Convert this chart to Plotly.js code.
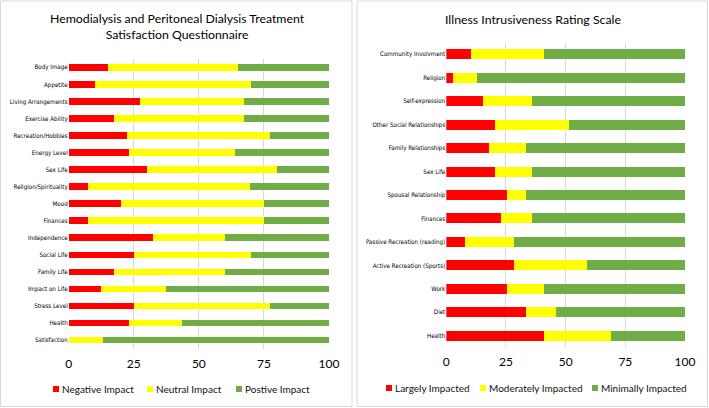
<!DOCTYPE html>
<html><head><meta charset="utf-8">
<script src="https://cdn.plot.ly/plotly-3.0.1.min.js"></script>
<style>html,body{margin:0;padding:0;background:#fff}#chart{width:709px;height:408px}</style>
</head><body><div id="chart"></div>
<script>
// Left chart: Hemodialysis and Peritoneal Dialysis Treatment Satisfaction Questionnaire
const hdCategories = ["Body Image","Appetite","Living Arrangements","Exercise Ability","Recreation/Hobbies","Energy Level","Sex Life","Religion/Spirituality","Mood","Finances","Independence","Social Life","Family Life","Impact on Life","Stress Level","Health","Satisfaction"];
const hdNegative = [15, 10, 27.5, 17.5, 22.5, 23, 30, 7.5, 20, 7.5, 32.5, 25, 17.5, 12.5, 25, 23, 0];
const hdNeutral  = [50, 60, 40, 50, 55, 41, 50, 62, 55, 67.5, 27.5, 45, 42.5, 25, 52.5, 20.5, 13];
const hdPositive = [35, 30, 32.5, 32.5, 22.5, 36, 20, 30.5, 25, 25, 40, 30, 40, 62.5, 22.5, 56.5, 87];
const hdSeries = ["Negative Impact", "Neutral Impact", "Postive Impact"];

// Right chart: Illness Intrusiveness Rating Scale
const iiCategories = ["Community Involvment","Religion","Self-expression","Other Social Relationships","Family Relationships","Sex Life","Spousal Relationship","Finances","Passive Recreation (reading)","Active Recreation (Sports)","Work","Diet","Health"];
const iiLargely    = [10.3, 2.6, 15.4, 20.5, 17.9, 20.5, 25.6, 23.1, 7.7, 28.2, 25.6, 33.3, 41.0];
const iiModerately = [30.8, 10.3, 20.5, 30.8, 15.4, 15.4, 7.7, 12.8, 20.5, 30.8, 15.4, 12.8, 28.2];
const iiMinimally  = [58.9, 87.1, 64.1, 48.7, 66.7, 64.1, 66.7, 64.1, 71.8, 41.0, 59.0, 53.9, 30.8];
const iiSeries = ["Largely Impacted", "Moderately Impacted", "Minimally Impacted"];

const xTicks = [0, 25, 50, 75, 100];
const colors = ["#FF0000", "#FFFF00", "#70AD47"];
const hdLegendWidths = [49, 44, 85];
const iiLegendWidths = [49, 67, 100];
const W = 709, H = 408;

const traces = [];
[hdNegative, hdNeutral, hdPositive].forEach((vals, i) => {
  traces.push({type:'bar', orientation:'h', x: vals, y: hdCategories, name: hdSeries[i],
    xaxis:'x', yaxis:'y', width:0.38, marker:{color: colors[i]}, legend:'legend',
    legendwidth: hdLegendWidths[i], hoverinfo:'none'});
});
[iiLargely, iiModerately, iiMinimally].forEach((vals, i) => {
  traces.push({type:'bar', orientation:'h', x: vals, y: iiCategories, name: iiSeries[i],
    xaxis:'x2', yaxis:'y2', width:0.43, marker:{color: colors[i]}, legend:'legend2',
    legendwidth: iiLegendWidths[i], hoverinfo:'none'});
});

const px = v => v / W, py = v => 1 - v / H;
const catFont = {family:'"Liberation Sans Narrow", "DejaVu Sans Condensed", Lato, sans-serif', size:6.2, color:'#000'};
const tickFont = {family:'Lato, "Open Sans", sans-serif', size:12, color:'#000'};
const legFont = {family:'Lato, sans-serif', size:10, color:'#111'};
const xaxisBase = {range:[0,100], tickvals:xTicks, ticktext:xTicks.map(String), showgrid:true,
  gridcolor:'#d9d9d9', gridwidth:1, zeroline:false, showline:false, ticks:'', tickfont:tickFont, fixedrange:true,
  automargin:false, ticklabelstandoff:6};
const yaxisBase = {type:'category', autorange:'reversed', showgrid:false, zeroline:false, showline:false,
  ticks:'', tickfont:catFont, ticklabelstandoff:0, fixedrange:true, automargin:false};

const layout = {
  width: W, height: H, margin:{l:0,r:0,t:0,b:0, autoexpand:false}, paper_bgcolor:'#fff', plot_bgcolor:'rgba(0,0,0,0)',
  barmode:'stack', showlegend:true,
  xaxis: Object.assign({}, xaxisBase, {domain:[px(68.7), px(329)], anchor:'y'}),
  yaxis: Object.assign({}, yaxisBase, {domain:[py(348.5), py(58.8)], anchor:'x'}),
  xaxis2: Object.assign({}, xaxisBase, {domain:[px(446.3), px(685)], anchor:'y2'}),
  yaxis2: Object.assign({}, yaxisBase, {domain:[py(347.4), py(42.6)], anchor:'x2'}),
  legend: {orientation:'h', traceorder:'normal', x:px(22), xanchor:'left', y:py(389), yanchor:'middle',
    font:legFont, itemwidth:30, bgcolor:'rgba(0,0,0,0)'},
  legend2: {orientation:'h', traceorder:'normal', x:px(355), xanchor:'left', y:py(388), yanchor:'middle',
    font:legFont, itemwidth:30, bgcolor:'rgba(0,0,0,0)'},
  shapes: [
    {type:'rect', xref:'paper', yref:'paper', x0:px(0.5), x1:px(352), y0:py(406.5), y1:py(1), line:{color:'#d9d9d9', width:1}},
    {type:'rect', xref:'paper', yref:'paper', x0:px(357), x1:px(707.5), y0:py(406.5), y1:py(1), line:{color:'#d9d9d9', width:1}}
  ],
  annotations: [
    {text:'Hemodialysis and Peritoneal Dialysis Treatment<br>Satisfaction Questionnaire', xref:'paper', yref:'paper',
      x:px(177), y:py(27), xanchor:'center', yanchor:'middle', showarrow:false,
      font:{family:'Lato, sans-serif', size:12.3, color:'#000'}},
    {text:'Illness Intrusiveness Rating Scale', xref:'paper', yref:'paper',
      x:px(533), y:py(19), xanchor:'center', yanchor:'middle', showarrow:false,
      font:{family:'Lato, sans-serif', size:12.3, color:'#000'}}
  ]
};

Plotly.newPlot('chart', traces, layout, {staticPlot:true, displayModeBar:false}).then(() => {
  // small square legend swatches placed right next to their labels, as in the reference
  document.querySelectorAll('.legendpoints path').forEach(p => {
    p.setAttribute('transform', 'translate(34,0) scale(0.5)');
  });
});
</script>
</body></html>
